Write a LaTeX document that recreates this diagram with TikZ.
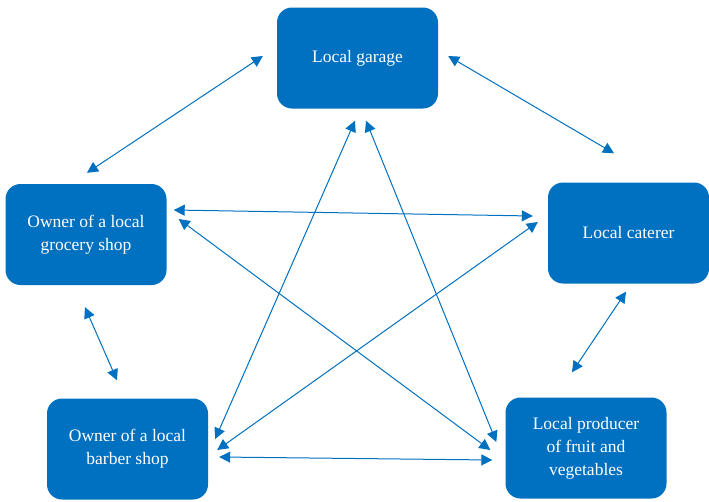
\documentclass[tikz,border=0pt]{standalone}
\usepackage{fontspec}
\setmainfont{Liberation Serif}
\usetikzlibrary{arrows.meta,calc}
\definecolor{boxblue}{RGB}{0,112,192}

\begin{document}
\begin{tikzpicture}[x=1pt,y=-1pt,>={Triangle[length=11pt,width=11pt]},
    actor/.style={fill=boxblue,rounded corners=15pt,text=white,align=center,
      minimum width=161pt,minimum height=101pt,inner sep=0pt,
      font=\fontsize{17.5}{23}\selectfont},
    link/.style={<->,boxblue,line width=1pt}]
  % Page in pixel units (y grows downward), 709 x 501.
  \useasboundingbox (0,0) rectangle (709,501);

  % The five local businesses.
  \node[actor] (garage)   at (357.5,58)  {Local garage};
  \node[actor] (grocery)  at (86,234.5)  {Owner of a local\\grocery shop};
  \node[actor] (caterer)  at (628.5,233) {Local caterer};
  \node[actor] (barber)   at (127.5,449) {Owner of a local\\barber shop};
  \node[actor] (producer) at (586,448)   {Local producer\\of fruit and\\vegetables};

  % Outer ring of neighbours.
  \draw[link] ($(garage.west)+(-14,-2)$) -- ($(grocery.north)+(1,-11)$);
  \draw[link] ($(garage.east)+(10,-2)$) -- ($(caterer.north)+(-14.5,-29)$);
  \draw[link] ($(grocery.south)+(-1,22)$) -- ($(barber.north)+(-10.5,-18)$);
  \draw[link] ($(caterer.south)+(-2.5,8)$) -- ($(producer.north)+(-14,-25)$);
  \draw[link] ($(barber.east)+(11,8)$) -- ($(producer.west)+(-13,12)$);

  % Inner star.
  \draw[link] ($(grocery.east)+(7,-24.5)$) -- ($(caterer.west)+(-15,-17)$);
  \draw[link] ($(grocery.east)+(12,-15.5)$) -- ($(producer.west)+(-15,2)$);
  \draw[link] ($(garage.south)+(-2.5,12)$) -- ($(barber.east)+(7,-10)$);
  \draw[link] ($(garage.south)+(8.5,12)$) -- ($(producer.west)+(-9,-6)$);
  \draw[link] ($(caterer.west)+(-10,-11)$) -- ($(barber.east)+(9,1)$);
\end{tikzpicture}
\end{document}
